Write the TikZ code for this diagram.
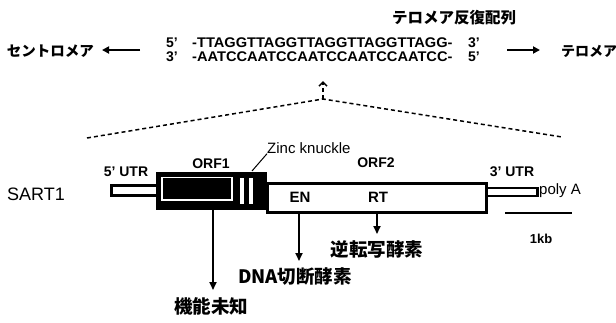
\documentclass[tikz,border=0pt]{standalone}
\usepackage{fontspec}
\setmainfont{Liberation Sans}
\newfontfamily\jp{Noto Sans CJK JP}
\usetikzlibrary{arrows.meta}
\begin{document}
\begin{tikzpicture}[x=1pt,y=-1pt,
  jpbig/.style={font=\jp\bfseries\fontsize{18.5}{18.5}\selectfont, inner sep=0pt},
  jpmid/.style={font=\jp\bfseries\fontsize{14.5}{14.5}\selectfont, inner sep=0pt},
  seqtxt/.style={font=\bfseries\fontsize{14}{14}\selectfont, inner sep=0pt, anchor=west},
  boldlab/.style={font=\bfseries\fontsize{14}{14}\selectfont, inner sep=0pt},
  plainlab/.style={font=\fontsize{15}{15}\selectfont, inner sep=0pt},
  bigarr/.style={line width=2pt, -{Triangle[length=7pt,width=7pt]}},
  downarr/.style={line width=1.8pt, -{Triangle[length=8pt,width=7pt]}},
  dotline/.style={line width=1.5pt, dash pattern=on 4pt off 3pt},
  utrbox/.style={draw, fill=white}
]
\useasboundingbox (0,0) rectangle (616,322);

% ---- top: telomere repeat ----
\node[jpmid, font=\jp\bfseries\fontsize{15.5}{15.5}\selectfont, anchor=west] (hdr) at (392,18) {テロメア反復配列};
\node[seqtxt] (p5a) at (166,43) {5’};
\node[seqtxt] (s1) at (192,43) {\scalebox{1.045}[1]{-TTAGGTTAGGTTAGGTTAGGTTAGG-}};
\node[seqtxt] (p3a) at (468,43) {3’};
\node[seqtxt] (p3b) at (166,57) {3’};
\node[seqtxt] (s2) at (192,57) {\scalebox{1.045}[1]{-AATCCAATCCAATCCAATCCAATCC-}};
\node[seqtxt] (p5b) at (468,57) {5’};

\node[jpmid, anchor=east] (cen) at (94,51) {セントロメア};
\node[jpmid, font=\jp\bfseries\fontsize{14}{14}\selectfont, anchor=west] (tel) at (561,51) {テロメア};
\coordinate (la) at (140,50);
\coordinate (lb) at (102,50);
\coordinate (ra) at (507,50);
\coordinate (rb) at (540,50);
\draw[bigarr] (la) -- (lb);
\draw[bigarr] (ra) -- (rb);

% ---- zoom lines ----
\coordinate (dl) at (87,138);
\coordinate (apex) at (323,99);
\coordinate (dr) at (562,137);
\coordinate (up) at (323,81);
\draw[dotline] (dl) -- (apex) -- (dr);
\draw[line width=1.5pt, dash pattern=on 4pt off 3pt, -{Straight Barb[length=4pt,width=8pt]}] (apex) -- (up);

% ---- gene structure ----
\node[draw, line width=3pt, fill=white, minimum width=219pt, minimum height=29pt, inner sep=0pt, anchor=north west] (orf2) at (266,181.5) {};
\node[utrbox, line width=3pt, minimum width=47pt, minimum height=10.5pt, inner sep=0pt, anchor=west] (utr5) at (110,190.7) {};
\node[utrbox, line width=2.5pt, minimum width=51pt, minimum height=8pt, inner sep=0pt, anchor=west] (utr3) at (485,192) {};
\node[fill=black, minimum width=111pt, minimum height=38pt, inner sep=0pt, anchor=north west] (orf1) at (156,172) {};
\draw[white, line width=1.3pt] (162,177.5) rectangle (232,200);
\fill[white] (240,178) rectangle (243.5,204);
\fill[white] (249,178) rectangle (252.5,204);

% labels
\node[font=\fontsize{18}{18}\selectfont, inner sep=0pt] (sart) at (36,194) {SART1};
\node[boldlab] (l5) at (126,172) {5’ UTR};
\node[boldlab] (lorf1) at (211,164) {ORF1};
\node[boldlab] (lorf2) at (376,163) {ORF2};
\node[boldlab] (l3) at (512,172) {3’ UTR};
\node[boldlab, font=\bfseries\fontsize{15}{15}\selectfont] (en) at (300,197) {EN};
\node[boldlab, font=\bfseries\fontsize{15}{15}\selectfont] (rt) at (378,197) {RT};
\node[plainlab, anchor=west] (poly) at (539,191) {poly A};
\node[plainlab, anchor=west] (zinc) at (267,148) {Zinc knuckle};
\coordinate (zk) at (252,171);
\draw[line width=1pt] (zk) -- (zinc.south west);

% down arrows
\coordinate (a1) at (213,210);
\coordinate (a2) at (299,212);
\coordinate (a3) at (377,212);
\coordinate (b1) at (213,290);
\coordinate (b2) at (299,261);
\coordinate (b3) at (377,234);
\node[jpbig] (unk) at (211,306) {機能未知};
\node[jpbig] (dna) at (295,277) {DNA切断酵素};
\node[jpbig] (rtase) at (377,249) {逆転写酵素};
\draw[downarr] (a1) -- (b1);
\draw[downarr] (a2) -- (b2);
\draw[downarr] (a3) -- (b3);

% scale bar
\coordinate (sb1) at (505,213);
\coordinate (sb2) at (572,213);
\draw[line width=2pt] (sb1) -- (sb2);
\node[boldlab, font=\bfseries\fontsize{13}{13}\selectfont] (kb) at (541,239) {1kb};
\end{tikzpicture}
\end{document}
